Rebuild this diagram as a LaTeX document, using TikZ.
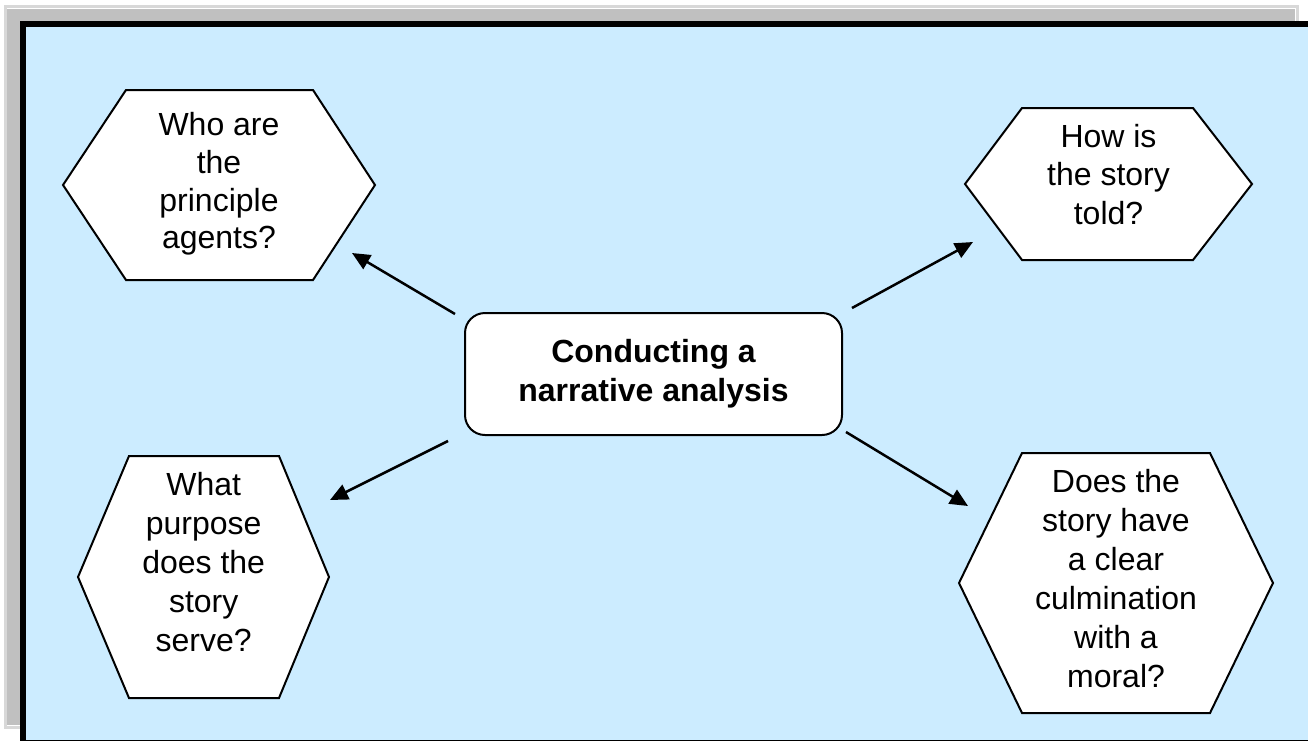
\documentclass[tikz,border=0pt]{standalone}
\usepackage{fontspec}
\setmainfont{Liberation Sans}
\usetikzlibrary{arrows.meta}
\definecolor{panel}{HTML}{CCECFF}
\definecolor{framegray}{HTML}{C0C0C0}
\definecolor{framelight}{HTML}{D8D8D8}
\tikzset{
  hexline/.style={draw=black, fill=white, line width=2pt, line join=miter},
  hextext/.style={align=center, inner sep=0pt, font=\fontsize{32}{39}\selectfont,
    execute at begin node=\strut, execute at end node=\strut},
  centerbox/.style={draw=black, fill=white, line width=2pt, rounded corners=20pt,
    minimum width=377pt, minimum height=122pt, inner sep=0pt, align=center,
    font=\fontsize{32}{39}\selectfont\bfseries},
  conn/.style={line width=2.5pt, -{Triangle[length=18pt,width=16pt]}}
}
\begin{document}
\begin{tikzpicture}[x=1pt,y=-1pt]
\useasboundingbox (0,0) rectangle (1308,740);
\clip (0,0) rectangle (1308,740);
% frame
\fill[framelight] (4,5) rectangle (1299,729);
\fill[framegray] (7,8) rectangle (1296,726);
\draw[white, line width=1pt] (7,8.5) -- (1295.5,8.5) -- (1295.5,725.5) -- (7,725.5);
% panel
\filldraw[fill=panel, draw=black, line width=6pt] (23,24) rectangle (1340,742.5);
% hexagons
\draw[hexline] (63,185) -- (126,90) -- (313,90) -- (375,185) -- (313,280) -- (126,280) -- cycle;
\draw[hexline] (965,184) -- (1022,108) -- (1193,108) -- (1252,184) -- (1193,260) -- (1022,260) -- cycle;
\draw[hexline] (78,577) -- (129,456) -- (279,456) -- (329,577) -- (279,698) -- (129,698) -- cycle;
\draw[hexline] (959,583) -- (1022,453) -- (1210,453) -- (1273,583) -- (1210,713) -- (1022,713) -- cycle;
% texts
\node[hextext, font=\fontsize{32}{37.7}\selectfont] (agents) at (219,186.5) {Who are\\the\\principle\\agents?};
\node[hextext, font=\fontsize{32}{38.5}\selectfont] (told) at (1108.5,180) {How is\\the story\\told?};
\node[hextext] (serve) at (203.7,568) {What\\purpose\\does the\\story\\serve?};
\node[hextext] (moral) at (1116,584.5) {Does the\\story have\\a clear\\culmination\\with a\\moral?};
\node[centerbox] (main) at (653.5,374) {\strut Conducting a\\narrative analysis\strut};
% connector ends
\coordinate (s1) at (455,314); \coordinate (t1) at (352,253);
\coordinate (s2) at (852,308); \coordinate (t2) at (973,242);
\coordinate (s3) at (448,441); \coordinate (t3) at (330,500);
\coordinate (s4) at (846,432); \coordinate (t4) at (968,506);
\draw[conn] (s1) -- (t1);
\draw[conn] (s2) -- (t2);
\draw[conn] (s3) -- (t3);
\draw[conn] (s4) -- (t4);
\end{tikzpicture}
\end{document}
